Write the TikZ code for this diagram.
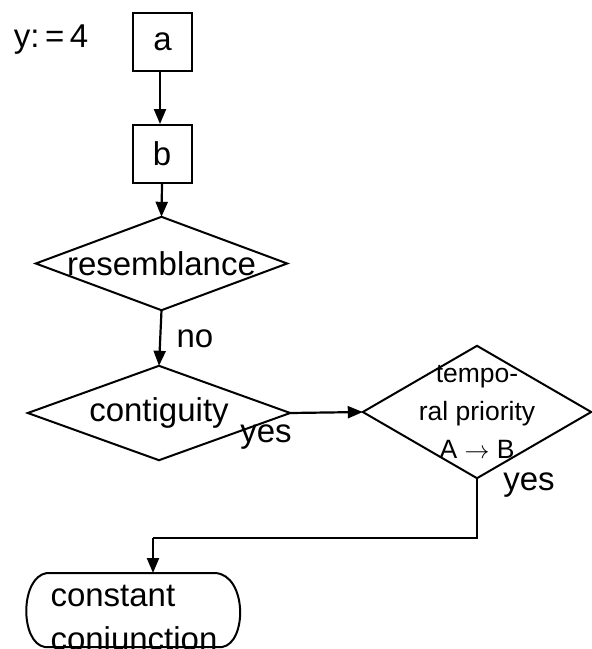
\documentclass[tikz,border=0pt]{standalone}
\usepackage{fontspec}
\setmainfont{Liberation Sans}
\usetikzlibrary{arrows.meta,calc}
\begin{document}
\begin{tikzpicture}[x=1pt,y=-1pt,
  every node/.style={font=\fontsize{33}{44}\selectfont},
  outline/.style={draw=black,line width=2pt,line join=miter},
  flow/.style={draw=black,line width=2.2pt,-{Triangle[length=15pt,width=12pt]}},
  plain/.style={draw=black,line width=1.8pt},
  boxnode/.style={draw=black,line width=2pt,rectangle,inner sep=0pt,minimum width=59pt,minimum height=58pt},
  decision/.style={rectangle,inner sep=0pt},
  lbl/.style={inner sep=0pt}]
\useasboundingbox (0,0) rectangle (592,649);

% assignment label and the two process boxes
\node[lbl] (assign) at (51,40) {y:\,=\,4};
\node[boxnode] (a) at (162.5,42) {a};
\node[boxnode] (b) at (162,154) {b};

% decisions: invisible rectangles whose side anchors carry the diamond corners
\node[decision,minimum width=251pt,minimum height=93pt] (res) at (161.5,263.5) {resemblance};
\draw[outline] (res.north) -- (res.east) -- (res.south) -- (res.west) -- cycle;

\node[decision,minimum width=262pt,minimum height=94pt] (con) at (159,413) {\raisebox{6pt}{contiguity}};
\draw[outline] (con.north) -- (con.east) -- (con.south) -- (con.west) -- cycle;

\node[decision,minimum width=228pt,minimum height=132pt,align=center,
      font=\fontsize{26.5}{38}\selectfont] (tmp) at (477,412) {tempo-\\ral priority\\A $\rightarrow$ B};
\draw[outline] (tmp.north) -- (tmp.east) -- (tmp.south) -- (tmp.west) -- cycle;

% terminal: the text sits low, so the outline reaches further above it than below
\node[rectangle,inner xsep=22.5pt,inner ysep=0pt,text width=170pt,align=left] (cc) at (135.5,621) {constant\\conjunction};
\coordinate (ccnw) at ($(cc.west)+(0,-48)$);
\coordinate (ccne) at ($(cc.east)+(0,-48)$);
\coordinate (ccsw) at ($(cc.west)+(0,26)$);
\coordinate (ccse) at ($(cc.east)+(0,26)$);
\draw[outline]
  ($(ccnw)+(19,0)$) -- ($(ccne)+(-28,0)$)
  .. controls ($(ccne)+(4,2)$) and ($(ccse)+(4,-4)$) .. ($(ccse)+(-21,0)$)
  -- ($(ccsw)+(17,0)$)
  .. controls ($(ccsw)+(-8,-4)$) and ($(ccnw)+(-8,4)$) .. ($(ccnw)+(19,0)$);

% branch labels
\node[lbl] (no) at (195,339) {no};
\node[lbl] (yes1) at (266,437) {yes};
\node[lbl] (yes2) at (529,485) {yes};

% connectors
\draw[flow] (a.south -| 160,0) -- (b.north -| 160,0);
\draw[flow] (b.south) -- (res.north);
\draw[flow] (res.south) -- (con.north);
\draw[flow] (con.east) -- (tmp.west);
\coordinate (turn) at (153,538);
\draw[plain] (tmp.south) |- (turn);
\draw[flow] (turn) -- (turn |- ccnw);
\end{tikzpicture}
\end{document}
